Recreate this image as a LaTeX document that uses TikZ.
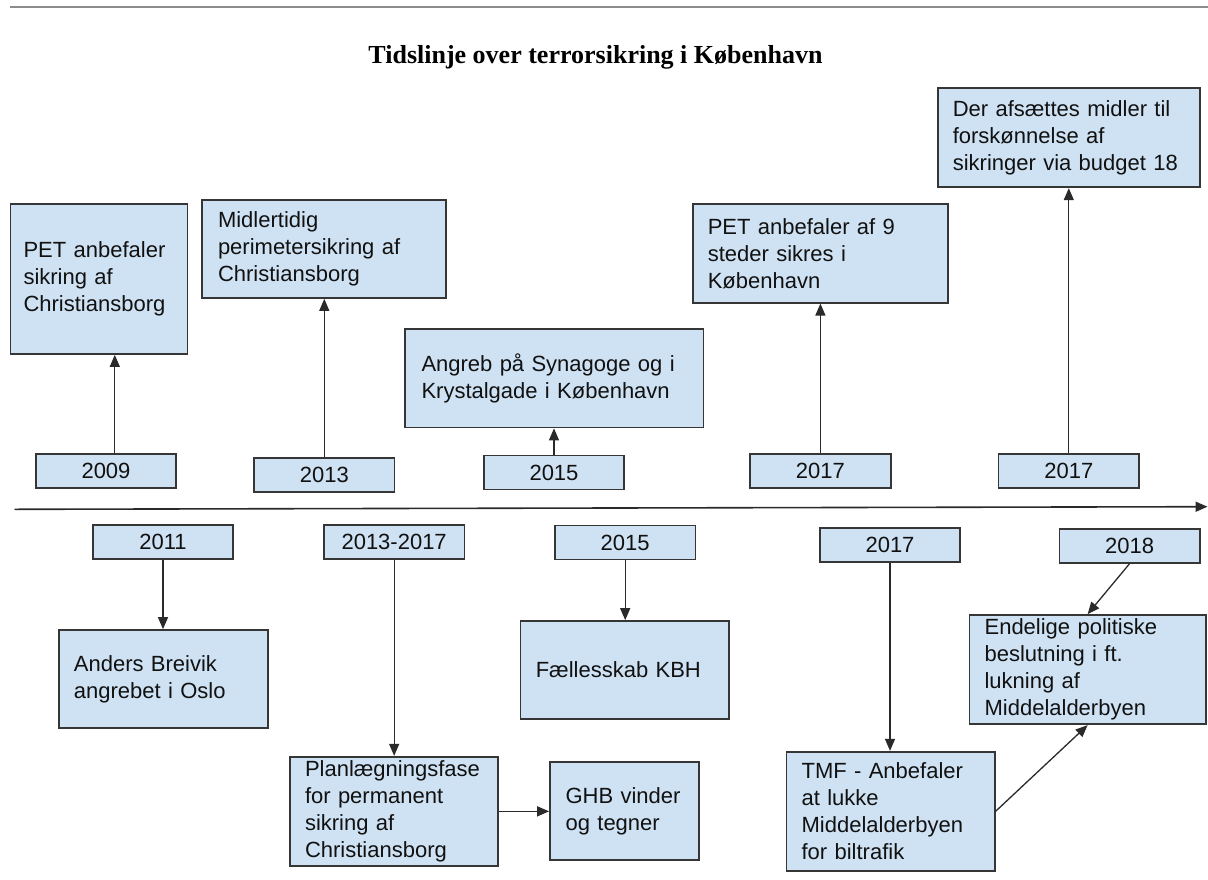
\documentclass[tikz,border=0pt]{standalone}
\usepackage{fontspec}
\setmainfont{Liberation Sans}
\newfontfamily\titlefont{Liberation Serif}
\usetikzlibrary{arrows.meta}
\definecolor{boxfill}{HTML}{CFE2F3}
\definecolor{boxline}{HTML}{363636}
\definecolor{arrline}{HTML}{2A2A2A}
\definecolor{rulegray}{HTML}{8C8C8C}
\definecolor{txt}{HTML}{111111}
\begin{document}
\begin{tikzpicture}[x=1pt,y=-1pt,
  ev/.style={draw=boxline, fill=boxfill, line width=1.7pt, inner ysep=0pt,
    align=left, text=txt, font=\fontsize{22}{27}\selectfont},
  yr/.style={draw=boxline, fill=boxfill, line width=1.7pt, inner sep=0pt,
    minimum width=140.5pt, minimum height=34pt, text=txt,
    font=\fontsize{22}{27}\selectfont},
  arr/.style={draw=arrline, line width=1.3pt, -{Triangle[length=12pt,width=10pt]}}
]
\useasboundingbox (0,0) rectangle (1208,879);

% top rule and title
\coordinate (r0) at (10,7);
\coordinate (r1) at (1208,7);
\draw[rulegray, line width=1.5pt] (r0) -- (r1);
\node[anchor=base, text=black, font=\titlefont\bfseries\fontsize{26}{30}\selectfont] (title) at (595.5,63)
  {Tidslinje over terrorsikring i København};

% timeline
\coordinate (tlstart) at (14.5,509.3);
\coordinate (tlend) at (1207.5,506.7);
\draw[arr, line width=1.6pt] (tlstart) -- (tlend);

% upper event boxes
\node[ev, inner xsep=13pt, text width=151pt, minimum width=177pt, minimum height=150pt] (pet09) at (99,279)
  {PET anbefaler\\sikring af\\Christiansborg};
\node[ev, inner xsep=16pt, text width=212pt, minimum width=244pt, minimum height=98pt] (mid13) at (324,249)
  {Midlertidig\\perimetersikring af\\Christiansborg};
\node[ev, inner xsep=16.5pt, text width=265.5pt, minimum width=298.5pt, minimum height=98.2pt] (angreb) at (554.25,378.4)
  {Angreb på Synagoge og i\\Krystalgade i København};
\node[ev, inner xsep=14.8pt, text width=225.2pt, minimum width=254.8pt, minimum height=98.7pt] (pet17) at (820.4,253.35)
  {PET anbefaler af 9\\steder sikres i\\København};
\node[ev, inner xsep=14.7pt, text width=232.7pt, minimum width=262.1pt, minimum height=99pt] (der) at (1069.15,137.8)
  {Der afsættes midler til\\forskønnelse af\\sikringer via budget 18};

% upper year boxes
\node[yr] (y2009) at (106,471.3) {2009};
\node[yr] (y2013) at (324.3,474.7) {2013};
\node[yr] (y2015a) at (554,472.5) {2015};
\node[yr] (y2017a) at (820.4,471.3) {2017};
\node[yr] (y2017b) at (1068.8,471.3) {2017};

% lower year boxes
\node[yr] (y2011) at (163,542) {2011};
\node[yr] (y1317) at (394.15,542) {2013-2017};
\node[yr] (y2015b) at (625.2,542.5) {2015};
\node[yr] (y2017c) at (890,545.3) {2017};
\node[yr] (y2018) at (1129.7,545.65) {2018};

% lower event boxes
\node[ev, inner xsep=15pt, text width=179pt, minimum width=209pt, minimum height=98.3pt] (anders) at (163.4,679.15)
  {Anders Breivik\\angrebet i Oslo};
\node[ev, inner xsep=15.3pt, text width=178pt, minimum width=208.6pt, minimum height=109.3pt] (plan) at (394,811.35)
  {Planlægningsfase\\for permanent\\sikring af\\Christiansborg};
\node[ev, inner xsep=15.6pt, text width=118.1pt, minimum width=149.3pt, minimum height=97.5pt] (ghb) at (624.65,811)
  {GHB vinder\\og tegner};
\node[ev, inner xsep=15.3pt, text width=177.9pt, minimum width=208.5pt, minimum height=98pt] (fael) at (624.75,670)
  {Fællesskab KBH};
\node[ev, inner xsep=15.1pt, text width=178pt, minimum width=208.2pt, minimum height=119.3pt] (tmf) at (890.6,811.35)
  {TMF - Anbefaler\\at lukke\\Middelalderbyen\\for biltrafik};
\node[ev, inner xsep=15.1pt, text width=206pt, minimum width=236.2pt, minimum height=109.3pt] (endel) at (1087.6,669.65)
  {Endelige politiske\\beslutning i ft.\\lukning af\\Middelalderbyen};

% connectors, upper
\draw[arr] ([xshift=8.8pt]y2009.north) -- ([xshift=8.8pt]y2009.north |- pet09.south);
\draw[arr] (y2013.north) -- (y2013.north |- mid13.south);
\draw[arr] (y2015a.north) -- (y2015a.north |- angreb.south);
\draw[arr] (y2017a.north) -- (y2017a.north |- pet17.south);
\draw[arr] (y2017b.north) -- (y2017b.north |- der.south);

% connectors, lower
\draw[arr] (y2011.south) -- (y2011.south |- anders.north);
\draw[arr] (y1317.south) -- (y1317.south |- plan.north);
\draw[arr] (plan.east) -- (plan.east -| ghb.west);
\draw[arr] (y2015b.south) -- (y2015b.south |- fael.north);
\draw[arr] (y2017c.south) -- (y2017c.south |- tmf.north);
\draw[arr] (y2018.south) -- (endel.north);
\draw[arr] (tmf.east) -- (endel.south);
\end{tikzpicture}
\end{document}
